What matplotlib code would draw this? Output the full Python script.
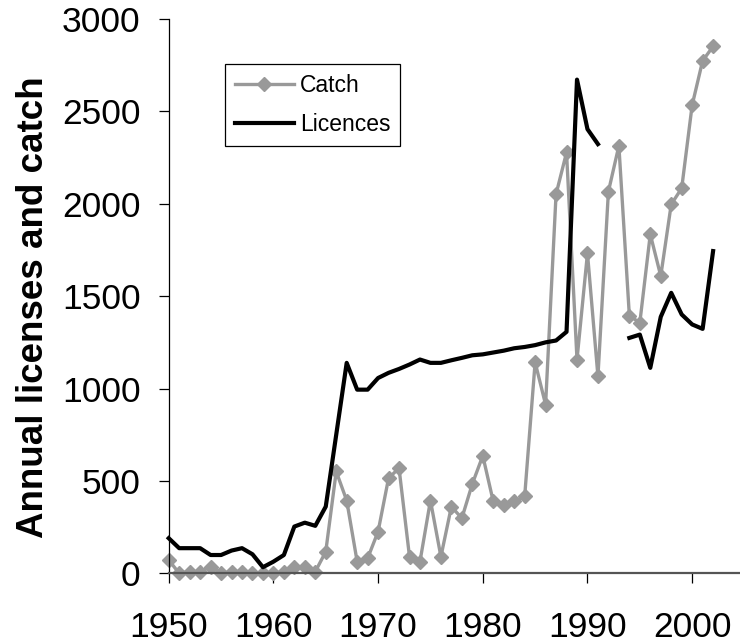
"""Annual licences and catch, 1950-2002."""
import matplotlib
matplotlib.use("Agg")
import matplotlib.pyplot as plt
import numpy as np

plt.rcParams["font.family"] = ["Liberation Sans", "DejaVu Sans"]

years = np.arange(1950, 2003)

catch = [72, 0, 9, 9, 36, 0, 9, 9, 0, 0,
         0, 9, 36, 36, 9, 117, 551, 394, 63, 81,
         226, 515, 569, 90, 63, 394, 90, 361, 298, 484,
         636, 389, 370, 389, 416, 1142, 913, 2052, 2278, 1157,
         1732, 1066, 2066, 2314, 1395, 1356, 1835, 1609, 1997, 2084,
         2534, 2774, 2852]

# no licence figures for 1992-93
licences = [190, 136, 136, 136, 99, 99, 123, 136, 103, 33,
            63, 99, 253, 274, 257, 361, 750, 1139, 994, 994,
            1057, 1085, 1106, 1130, 1157, 1139, 1139, 1153, 1166, 1180,
            1185, 1195, 1205, 1218, 1225, 1235, 1250, 1260, 1307, 2672,
            2404, 2323, np.nan, np.nan, 1274, 1292, 1112, 1388, 1518, 1401,
            1347, 1323, 1744]

xticks = [1950, 1960, 1970, 1980, 1990, 2000]
yticks = [0, 500, 1000, 1500, 2000, 2500, 3000]

GREY = "#999999"

fig = plt.figure(figsize=(7.4, 6.43), dpi=100)
ax = fig.add_axes([0.228, 0.1084, 0.772, 0.862])

ax.plot(years, catch, color=GREY, lw=2.4, marker="D", ms=7.5,
        mec=GREY, mfc=GREY, label="Catch", clip_on=False, zorder=2)
ax.plot(years, licences, color="black", lw=3, label="Licences",
        clip_on=False, zorder=3)

ax.set_xlim(1950, 2004.57)
ax.set_ylim(0, 3000)
ax.set_xticks(xticks)
ax.set_yticks(yticks)

for side in ("top", "right"):
    ax.spines[side].set_visible(False)
ax.spines["left"].set_linewidth(0.9)
ax.spines["bottom"].set_color("#555555")
ax.spines["bottom"].set_linewidth(1.6)

ax.tick_params(axis="both", direction="out", length=7.2, width=0.9,
               colors="black", labelsize=25.5)
ax.tick_params(axis="x", pad=20)
ax.tick_params(axis="y", pad=13)

ax.set_ylabel("Annual licenses and catch", fontsize=26.5, fontweight="bold")
ax.yaxis.set_label_coords(-0.206, 0.48)

leg = ax.legend(loc="upper left", bbox_to_anchor=(0.0986, 0.919),
                borderaxespad=0, fontsize=16.5, frameon=True, fancybox=False,
                edgecolor="black", framealpha=1, handlelength=2.6,
                handletextpad=0.25, labelspacing=0.72, borderpad=0.42)
leg.get_frame().set_linewidth(0.9)

fig.savefig("out.png", dpi=100)
